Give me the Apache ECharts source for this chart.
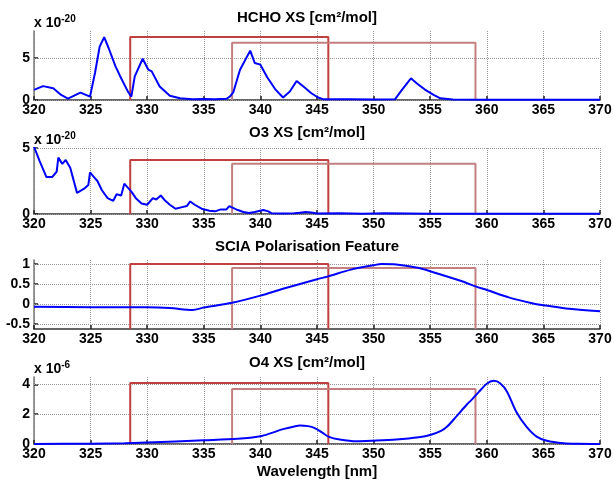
<!DOCTYPE html>
<html><head><meta charset="utf-8">
<script src="https://cdn.jsdelivr.net/npm/echarts@6/dist/echarts.min.js"></script>
<style>html,body{margin:0;padding:0;background:#fff}#c{width:614px;height:481px}</style>
</head><body><div id="c"></div>
<script>
// ---- data ----
var titles = ['HCHO XS [cm\u00b2/mol]', 'O3 XS [cm\u00b2/mol]', 'SCIA Polarisation Feature', 'O4 XS [cm\u00b2/mol]'];
var xTicks = [320, 325, 330, 335, 340, 345, 350, 355, 360, 365, 370];
var yTicks = [[0, 5], [0, 5], [-0.5, 0, 0.5, 1], [0, 2, 4]];

var hchoWl = [320,320.8,321.7,322.4,323.0,324.1,324.95,325.4,325.8,326.2,326.6,327.2,327.6,328.3,328.6,328.9,329.6,330.1,330.4,331.1,332.0,332.9,334,335,336,337,337.3,337.6,338.2,339.1,339.5,340.0,340.6,341.3,342.0,342.6,343.2,343.8,344.5,345.1,345.6,348,350,351.9,352.5,353.3,353.8,354.5,355.3,355.9,357,360,365,370];
var hchoXs = [1.2,1.65,1.4,0.6,0.17,0.87,0.4,3.3,6.35,7.46,6.15,4.0,2.86,1.0,0.4,2.8,4.9,3.6,3.4,1.6,0.5,0.2,0.1,0.12,0.08,0.15,0.4,0.9,3.6,5.87,4.4,4.2,2.7,1.3,0.3,1.0,2.26,1.6,0.8,0.3,0.08,0.1,0.05,0.1,1.2,2.58,2.0,1.27,0.6,0.2,0.05,0.04,0.03,0.03];

var o3Wl = [320,320.5,321.1,321.6,322.0,322.15,322.5,322.8,323.2,323.8,324.4,324.8,324.95,325.3,325.6,326,326.5,327,327.3,327.7,327.98,328.6,329,329.5,330,330.5,330.8,331.2,331.6,332,332.5,333,333.5,333.8,334.2,334.8,335.5,336,336.5,337,337.25,338,338.5,339,339.5,340.26,340.7,341,342,343,343.5,344,344.5,345,347,349,351,355,360,365,370];
var o3Xs = [5.1,4.0,2.8,2.8,3.2,4.27,3.8,4.1,3.5,1.6,1.9,2.2,3.15,2.8,2.5,1.8,1.2,1.0,1.5,1.4,2.3,1.7,1.2,0.8,0.7,1.2,1.1,1.4,1.0,0.7,0.4,0.5,0.6,0.95,0.7,0.4,0.25,0.2,0.35,0.35,0.6,0.3,0.15,0.08,0.15,0.3,0.2,0.05,0.03,0.05,0.1,0.15,0.12,0.04,0.06,0.02,0.05,0.02,0.02,0.01,0.01];

var sciaWl = [320,325,330,332,334,335,337.5,340,342,345,346,348,350,350.7,352,354,356,358,359,360,362,364,365,367,370];
var sciaVal = [-0.07,-0.08,-0.08,-0.1,-0.15,-0.09,0.03,0.21,0.38,0.62,0.69,0.86,0.97,1.0,0.99,0.9,0.73,0.55,0.44,0.35,0.16,0.02,-0.03,-0.11,-0.18];

var o4Wl = [320,325,328,330,335,338,340,341,342,343,343.5,344.2,344.8,345.5,346,347,348.5,350,352,354,355,356,356.5,357.3,358.2,358.7,359.3,360,360.6,361.2,361.8,362.6,363.5,364.4,365.3,366.8,368,370];
var o4Xs = [0,0.02,0.05,0.1,0.25,0.35,0.52,0.75,1.0,1.18,1.24,1.2,1.07,0.75,0.5,0.3,0.18,0.22,0.3,0.45,0.6,0.9,1.17,1.84,2.62,3.0,3.5,4.05,4.24,4.07,3.5,2.17,1.17,0.5,0.22,0.05,0.01,0];

var win1 = [328.5, 346];
var win2 = [337.5, 359];
var winTop1 = [7.5, 4.1, 1.0, 4.1];
var winTop2 = [6.8, 3.8, 0.9, 3.7];
var yMin = [0, 0, -0.625, 0];
var yMax = [8.2, 5, 1.1, 4.5];
var scaleExp = ['-20', '-20', null, '-6'];

// ---- layout ----
var grids = [
  {left: 34, width: 566, top: 31, height: 69, outerBoundsMode: 'none', containLabel: false},
  {left: 34, width: 566, top: 148, height: 66, outerBoundsMode: 'none', containLabel: false},
  {left: 34, width: 566, top: 260, height: 69, outerBoundsMode: 'none', containLabel: false},
  {left: 34, width: 566, top: 377, height: 67, outerBoundsMode: 'none', containLabel: false}
];
var titleY = [5, 120, 234, 350];
var fontFam = 'Arial, "Liberation Sans", sans-serif';
var smoothness = [false, false, 0.3, 0.3];

function pairs(xs, ys){ return xs.map(function(x,i){return [x, ys[i]];}); }
function rect(w, t, b){ return [[w[0], b],[w[0], t],[w[1], t],[w[1], b]]; }

var xAxes = [], yAxes = [], series = [], title = [], graphic = [];
var datasets = [pairs(hchoWl,hchoXs), pairs(o3Wl,o3Xs), pairs(sciaWl,sciaVal), pairs(o4Wl,o4Xs)];

for (var i=0;i<4;i++){
  title.push({text: titles[i], left: 'center', top: titleY[i],
    textStyle:{fontFamily: fontFam, fontWeight:'bold', fontSize:15, color:'#000'}});
  xAxes.push({type:'value', gridIndex:i, min:320, max:370, interval:5,
    axisLine:{show:true, onZero:false, lineStyle:{color:'#333', width:1.5}},
    axisTick:{show:true, inside:true, length:4, lineStyle:{color:'#222', width:1.5}},
    axisLabel:{color:'#000', fontFamily:fontFam, fontWeight:'bold', fontSize:14, margin:3},
    splitLine:{show:true, lineStyle:{type:'dotted', color:'#999', width:1}},
    name: i===3 ? 'Wavelength [nm]' : '', nameLocation:'middle', nameGap:20,
    nameTextStyle:{color:'#000', fontFamily:fontFam, fontWeight:'bold', fontSize:15}
  });
  yAxes.push({type:'value', gridIndex:i, min:yMin[i], max:yMax[i],
    axisLine:{show:true, onZero:false, lineStyle:{color:'#777', width:1.5}},
    axisTick:{show:true, inside:true, length:4, customValues: yTicks[i], lineStyle:{color:'#222', width:1.5}},
    axisLabel:{color:'#000', fontFamily:fontFam, fontWeight:'bold', fontSize:14, margin:4, customValues: yTicks[i]},
    splitLine:{show:false}
  });
  var gridLines = yTicks[i].map(function(v){ return {yAxis: v}; });
  series.push({type:'line', xAxisIndex:i, yAxisIndex:i, data: rect(win1, winTop1[i], yMin[i]),
    showSymbol:false, lineStyle:{color:'#c04040', width:2}, z:2, silent:true,
    markLine:{silent:true, symbol:'none', label:{show:false}, z:1,
      lineStyle:{type:'dotted', color:'#999', width:1}, data: gridLines}});
  series.push({type:'line', xAxisIndex:i, yAxisIndex:i, data: rect(win2, winTop2[i], yMin[i]),
    showSymbol:false, lineStyle:{color:'#c48080', width:2}, z:2, silent:true});
  series.push({type:'line', xAxisIndex:i, yAxisIndex:i, data: datasets[i],
    showSymbol:false, smooth:smoothness[i], lineStyle:{color:'#0000ff', width:2}, z:3});
  if (scaleExp[i]){
    graphic.push({type:'text', left: 34, top: grids[i].top - 17,
      style:{text:'{a|x 10}{b|' + scaleExp[i] + '}', rich:{
        a:{fontFamily:fontFam, fontWeight:'bold', fontSize:14, fill:'#000', verticalAlign:'bottom', lineHeight:16},
        b:{fontFamily:fontFam, fontWeight:'bold', fontSize:10, fill:'#000', verticalAlign:'top', lineHeight:16, padding:[0,0,8,0]}
      }}});
  }
}

var chart = echarts.init(document.getElementById('c'), null, {renderer:'canvas'});
chart.setOption({
  animation:false, backgroundColor:'#fff',
  title: title, grid: grids, xAxis: xAxes, yAxis: yAxes, series: series, graphic: graphic
});
</script></body></html>
